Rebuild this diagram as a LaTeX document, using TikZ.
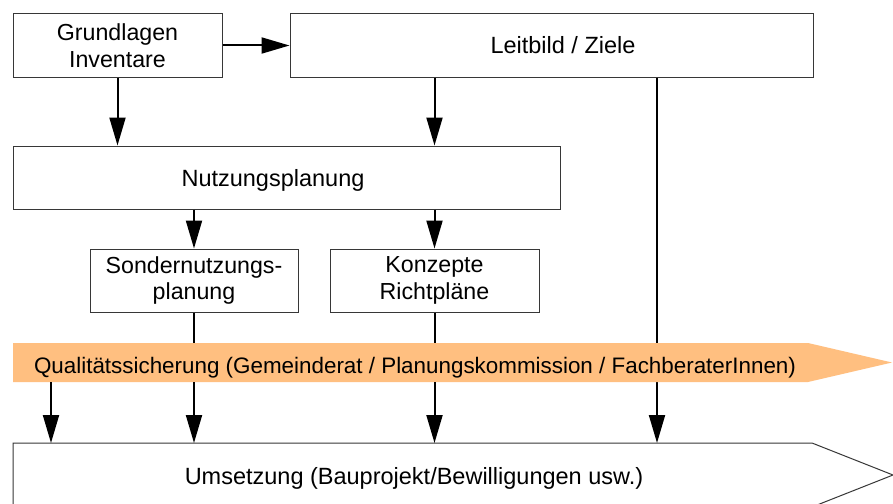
\documentclass[tikz,border=0pt]{standalone}
\usepackage{fontspec}
\setmainfont{Liberation Sans}
\usetikzlibrary{arrows.meta}
\definecolor{boxline}{RGB}{55,55,55}
\definecolor{qorange}{RGB}{255,191,128}
\begin{document}
\begin{tikzpicture}[x=1pt,y=-1pt,
  box/.style={draw=boxline, line width=1pt, fill=white, inner sep=0pt, align=center,
    font=\fontsize{23.2}{26.5}\selectfont},
  txt/.style={inner sep=0pt, font=\fontsize{23.5}{26.5}\selectfont},
  arr/.style={line width=2pt, -{Triangle[length=28pt,width=16pt]}},
  ln/.style={line width=2pt},
  body/.style={inner sep=0pt, outer sep=0pt}]
\clip (0,0) rectangle (893,503);
\fill[white] (0,0) rectangle (893,503);

% boxes
\node[box, minimum width=209pt, minimum height=63pt] (grund) at (117.5,45.5) {Grundlagen\\Inventare};
\node[box, minimum width=523pt, minimum height=63pt] (leit) at (551.5,45.5) {};
\node[txt, anchor=base] (leitT) at (563,54) {Leitbild / Ziele};
\node[box, minimum width=547pt, minimum height=63pt] (nutz) at (286.5,177.5) {};
\node[txt, anchor=base] (nutzT) at (273,186) {Nutzungsplanung};
\node[box, minimum width=208pt, minimum height=63pt] (sonder) at (194,280.5) {Sondernutzungs-\\planung};
\node[box, minimum width=209pt, minimum height=63pt] (konz) at (434.5,280.5) {Konzepte\\Richtpläne};

% bodies of the two big arrows
\node[body, minimum width=795pt, minimum height=39pt] (qual) at (410.5,362.5) {};
\coordinate (qtip) at (892,362.5);
\node[body, minimum width=799pt, minimum height=64pt] (umset) at (412.5,475) {};
\coordinate (utip) at (893,475);
\coordinate (xa) at (51,0);
\coordinate (xd) at (657,0);

\draw[boxline, line width=1pt, fill=white] (umset.north west) -- (umset.north east) -- (utip)
  -- (umset.south east) -- (umset.south west) -- cycle;
\node[txt, anchor=base] (umsetT) at (414,484) {Umsetzung (Bauprojekt/Bewilligungen usw.)};

% upper connectors
\draw[arr] (grund.east) -- (leit.west);
\draw[arr] (grund.south) -- (grund.south |- nutz.north);
\draw[arr] (konz.north |- leit.south) -- (konz.north |- nutz.north);
\draw[arr] (xd |- leit.south) -- (xd |- umset.north);
\draw[arr] (sonder.north |- nutz.south) -- (sonder.north);
\draw[arr] (konz.north |- nutz.south) -- (konz.north);
\draw[ln] (sonder.south) -- (sonder.south |- qual.north);
\draw[ln] (konz.south) -- (konz.south |- qual.north);

% quality band
\fill[qorange] (qual.north west) -- (qual.north east) -- (qtip) -- (qual.south east)
  -- (qual.south west) -- cycle;
\node[txt, anchor=base, font=\fontsize{22.4}{26}\selectfont] (qualT) at (415,373) {Qualitätssicherung (Gemeinderat / Planungskommission / FachberaterInnen)};

% lower connectors
\draw[arr] (xa |- qual.south) -- (xa |- umset.north);
\draw[arr] (sonder.south |- qual.south) -- (sonder.south |- umset.north);
\draw[arr] (konz.south |- qual.south) -- (konz.south |- umset.north);
\end{tikzpicture}
\end{document}
